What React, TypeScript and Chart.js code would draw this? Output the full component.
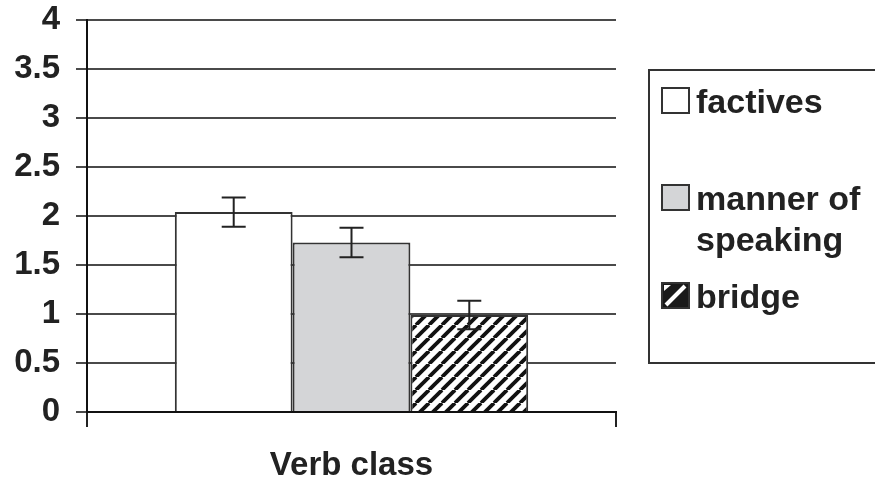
import React, { useEffect, useRef } from "react";
import { Chart, registerables } from "chart.js";

Chart.register(...registerables);

const categories = [""];
const seriesNames = ["factives", "manner of speaking", "bridge"];
const legendLines = [["factives"], ["manner of", "speaking"], ["bridge"]];
const means = [2.04, 1.73, 0.99];
const errors = [0.15, 0.15, 0.145];
const yTicks = [0, 0.5, 1, 1.5, 2, 2.5, 3, 3.5, 4];
const xTitle = "Verb class";

const FONT = "'Liberation Sans', Arial, sans-serif";
const INK = "#222";

function makeHatch(): CanvasPattern | string {
  const s = 13;
  const c = document.createElement("canvas");
  c.width = s;
  c.height = s;
  const g = c.getContext("2d");
  if (!g) return "#888";
  g.fillStyle = "#fff";
  g.fillRect(0, 0, s, s);
  g.strokeStyle = "#111";
  g.lineWidth = 3.8;
  for (const k of [-1, 0, 1]) {
    g.beginPath();
    g.moveTo(k * s, s);
    g.lineTo(k * s + s, 0);
    g.stroke();
  }
  const p = g.createPattern(c, "repeat");
  return p || "#888";
}

export default function App() {
  const ref = useRef<HTMLCanvasElement | null>(null);

  useEffect(() => {
    if (!ref.current) return;
    const hatch = makeHatch();
    const fills = ["#ffffff", "#d4d5d7", hatch];

    const errorBars = {
      id: "errorBars",
      afterDatasetsDraw(chart: any) {
        const ctx = chart.ctx;
        const y = chart.scales.y;
        ctx.save();
        ctx.strokeStyle = INK;
        ctx.lineWidth = 2;
        chart.data.datasets.forEach((ds: any, i: number) => {
          const meta = chart.getDatasetMeta(i);
          const bar = meta.data[0];
          if (!bar) return;
          const v = means[i];
          const e = errors[i];
          const yt = y.getPixelForValue(v + e);
          const yb = y.getPixelForValue(v - e);
          const cap = 12;
          ctx.beginPath();
          ctx.moveTo(bar.x, yt);
          ctx.lineTo(bar.x, yb);
          ctx.moveTo(bar.x - cap, yt);
          ctx.lineTo(bar.x + cap, yt);
          ctx.moveTo(bar.x - cap, yb);
          ctx.lineTo(bar.x + cap, yb);
          ctx.stroke();
        });
        ctx.restore();
      },
    };

    const boxLegend = {
      id: "boxLegend",
      afterDraw(chart: any) {
        const ctx = chart.ctx;
        const area = chart.chartArea;
        const left = area.right + 33;
        const top = area.top + 50;
        const bottom = area.top + 343;
        ctx.save();
        ctx.strokeStyle = "#333";
        ctx.lineWidth = 2;
        ctx.strokeRect(left, top, chart.width - left + 5, bottom - top);
        ctx.font = `bold 34px ${FONT}`;
        ctx.fillStyle = INK;
        ctx.textBaseline = "alphabetic";
        ctx.textAlign = "left";
        const baselines = [area.top + 93, area.top + 190, area.top + 288];
        const lineGap = 41;
        legendLines.forEach((lines, i) => {
          const base = baselines[i];
          const sx = left + 13;
          const sy = base - 25;
          const sw = 27;
          const sh = 25;
          if (i === 2) {
            ctx.fillStyle = "#1a1a1a";
            ctx.fillRect(sx, sy, sw, sh);
            ctx.strokeStyle = "#fff";
            ctx.lineWidth = 4;
            ctx.beginPath();
            ctx.moveTo(sx + 4, sy + sh - 3);
            ctx.lineTo(sx + sw - 4, sy + 3);
            ctx.stroke();
            ctx.fillStyle = "#fff";
            ctx.beginPath();
            ctx.moveTo(sx + 2, sy + 2);
            ctx.lineTo(sx + 9, sy + 2);
            ctx.lineTo(sx + 2, sy + 8);
            ctx.closePath();
            ctx.fill();
          } else {
            ctx.fillStyle = i === 0 ? "#fff" : "#d4d5d7";
            ctx.fillRect(sx, sy, sw, sh);
          }
          ctx.strokeStyle = "#333";
          ctx.lineWidth = 2;
          ctx.strokeRect(sx, sy, sw, sh);
          ctx.fillStyle = INK;
          lines.forEach((t, j) => {
            ctx.fillText(t, left + 47, base + j * lineGap);
          });
        });
        ctx.restore();
      },
    };

    const chart = new Chart(ref.current, {
      type: "bar",
      data: {
        labels: categories,
        datasets: seriesNames.map((name, i) => ({
          label: name,
          data: [means[i]],
          backgroundColor: fills[i] as any,
          borderColor: "#333",
          borderWidth: 2,
          categoryPercentage: 0.668,
          barPercentage: 1,
        })),
      },
      options: {
        responsive: false,
        animation: false,
        layout: { padding: { top: 20, right: 259, bottom: 0, left: 0 } },
        plugins: {
          legend: { display: false },
          tooltip: { enabled: false },
        },
        scales: {
          x: {
            grid: {
              display: true,
              drawOnChartArea: false,
              drawTicks: true,
              tickLength: 15,
              color: INK,
              lineWidth: 2,
              offset: true,
            },
            border: { display: true, color: "#111", width: 2 },
            ticks: { display: false },
            title: {
              display: true,
              text: xTitle,
              color: INK,
              font: { family: FONT, size: 33, weight: "bold", lineHeight: 0.88 },
              padding: { top: 0, bottom: 0 },
            },
            afterFit(scale: any) {
              scale.height = 68;
              scale.paddingLeft = 0;
              scale.paddingRight = 0;
            },
          },
          y: {
            min: 0,
            max: 4,
            afterBuildTicks(scale: any) {
              scale.ticks = yTicks.map((v) => ({ value: v }));
            },
            grid: {
              color: "#4a4a4a",
              lineWidth: 2,
              tickLength: 11,
            },
            border: { display: true, color: "#111", width: 2 },
            ticks: {
              color: INK,
              padding: 16,
              font: { family: FONT, size: 33, weight: "bold" },
              callback: (v: any) => String(v),
            },
            afterFit(scale: any) {
              scale.width = 87;
              scale.paddingTop = 0;
              scale.paddingBottom = 0;
            },
          },
        },
      },
      plugins: [errorBars, boxLegend],
    });
    return () => chart.destroy();
  }, []);

  return (
    <div style={{ position: "absolute", left: 0, top: 0, width: 875, height: 480, background: "#fff" }}>
      <canvas ref={ref} width={875} height={480} style={{ display: "block" }} />
    </div>
  );
}
